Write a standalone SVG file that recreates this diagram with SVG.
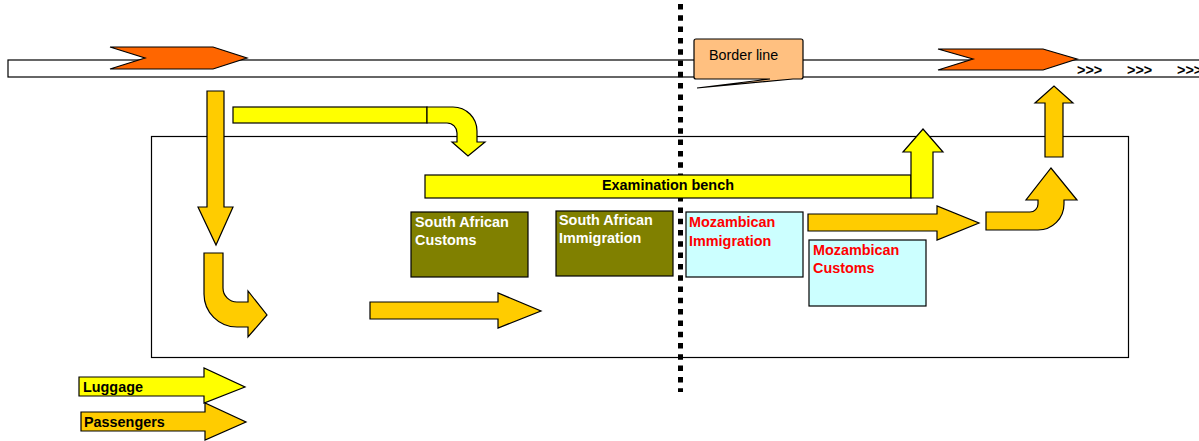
<svg xmlns="http://www.w3.org/2000/svg" width="1199" height="441" viewBox="0 0 1199 441">
  <style>
    .ln { stroke: #000; stroke-width: 1.2; stroke-linejoin: miter; }
    .road { fill: #fff; }
    .train { fill: #FF6600; }
    .lug { fill: #FFFF00; }
    .pas { fill: #FFCC00; }
    .sa { fill: #808000; }
    .mz { fill: #CCFFFF; }
    .t { font-family: "Liberation Sans", Arial, sans-serif; font-size: 14.4px; font-weight: bold; }
    .w { fill: #fff; }
    .r { fill: #FF0000; }
    .k { fill: #000; }
  </style>

  <!-- railway strip -->
  <g id="railway">
    <rect class="road ln" x="8" y="60" width="1196" height="17"/>
    <polygon class="train ln" points="110,47 213,47 247,58 213,69 110,69 145,58"/>
    <polygon class="train ln" points="938,49 1043,49 1077,59 1043,70 938,70 973,59"/>
    <text class="t k" x="1077" y="75">&gt;&gt;&gt;</text>
    <text class="t k" x="1127" y="75">&gt;&gt;&gt;</text>
    <text class="t k" x="1177" y="75">&gt;&gt;&gt;</text>
  </g>

  <!-- station building outline -->
  <g id="station">
    <rect x="151.5" y="136.5" width="977" height="221" fill="none" class="ln"/>
  </g>

  <!-- border -->
  <g id="border">
    <line x1="680.5" y1="4" x2="680.5" y2="392" stroke="#000" stroke-width="5" stroke-dasharray="5.5 5.8"/>
  </g>
  <g id="border-label">
    <path d="M694,41 Q694,39 696,39 H801 Q803,39 803,41 V77 Q803,79 801,79 H793 L697,88 L770,79 H696 Q694,79 694,77 Z" fill="#FFC080" class="ln"/>
    <text x="709" y="60" font-family="Liberation Sans, Arial, sans-serif" font-size="14.3" fill="#000">Border line</text>
  </g>

  <!-- examination bench -->
  <g id="bench">
    <rect class="lug ln" x="425" y="175" width="486" height="23"/>
    <text class="t k" x="668" y="190" text-anchor="middle">Examination bench</text>
  </g>

  <!-- control posts -->
  <g id="sa-customs">
    <rect class="sa ln" x="411" y="212" width="117" height="65"/>
    <text class="t w" x="415" y="227">South African</text>
    <text class="t w" x="415" y="245">Customs</text>
  </g>
  <g id="sa-immigration">
    <rect class="sa ln" x="556" y="211" width="117" height="65"/>
    <text class="t w" x="559" y="225">South African</text>
    <text class="t w" x="559" y="243">Immigration</text>
  </g>
  <g id="mz-immigration">
    <rect class="mz ln" x="686" y="212" width="117" height="65"/>
    <text class="t r" x="689" y="227">Mozambican</text>
    <text class="t r" x="689" y="246">Immigration</text>
  </g>
  <g id="mz-customs">
    <rect class="mz ln" x="809" y="240" width="117" height="66"/>
    <text class="t r" x="813" y="255">Mozambican</text>
    <text class="t r" x="813" y="273">Customs</text>
  </g>

  <!-- flow arrows -->
  <g id="connectors">
    <!-- luggage -->
    <rect class="lug ln" x="233" y="107" width="194" height="16"/>
    <path class="lug ln" d="M427,107 H453 A24,24 0 0 1 477,131 V142 H485 L468,156 L452,142 H457 V133 A10,10 0 0 0 447,123 H427 Z"/>
    <path class="lug ln" d="M911,198 V152 H903 L923,129 L943,152 H933 V198 Z"/>
    <!-- passengers -->
    <polygon class="pas ln" points="207,91 224,91 224,207 233,207 216,245 198,207 207,207"/>
    <path class="pas ln" d="M204,253 H223 V288 A14,14 0 0 0 237,302 H248 V291 L267,315 L248,337 V327 H237 A33,33 0 0 1 204,294 Z"/>
    <polygon class="pas ln" points="370,302 498,302 498,293 541,311 498,328 498,319 370,319"/>
    <polygon class="pas ln" points="808,214 937,214 937,206 979,223 937,240 937,231 808,231"/>
    <path class="pas ln" d="M986,212 H1030 A8,8 0 0 0 1038,204 V200 H1026 L1051,168 L1077,200 H1064 V204 A26,26 0 0 1 1038,230 H986 Z"/>
    <polygon class="pas ln" points="1045,157 1045,103 1035,103 1054,86 1073,103 1063,103 1063,157"/>
  </g>

  <!-- key -->
  <g id="legend-luggage">
    <polygon class="lug ln" points="79,377 204,377 204,368 245,387 204,403 204,396 79,396"/>
    <text class="t k" x="83" y="392">Luggage</text>
  </g>
  <g id="legend-passengers">
    <polygon class="pas ln" points="81,412 205,412 205,403 246,422 205,440 205,431 81,431"/>
    <text class="t k" x="84" y="427">Passengers</text>
  </g>
</svg>
